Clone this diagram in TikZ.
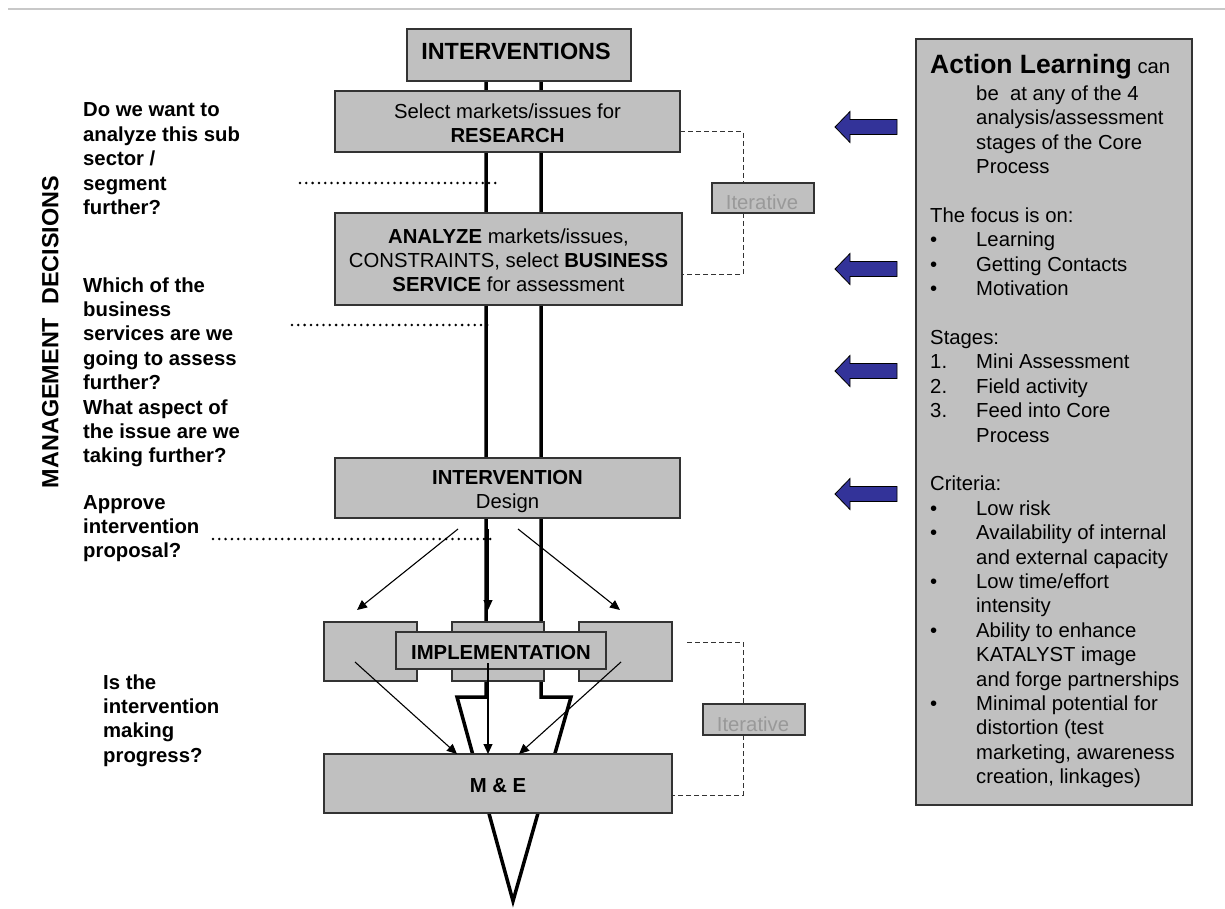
\documentclass[tikz,border=0pt]{standalone}
\usepackage{fontspec}
\setmainfont{Liberation Sans}
\usetikzlibrary{arrows.meta}
\definecolor{boxgray}{HTML}{C0C0C0}
\definecolor{edgegray}{HTML}{333333}
\definecolor{itergray}{HTML}{999999}
\definecolor{navyarr}{HTML}{333399}
\definecolor{rulegray}{HTML}{C8C8C8}
\newcommand\fsz[2]{\fontsize{#1}{#2}\selectfont}
\begin{document}
\begin{tikzpicture}[x=1pt,y=-1pt,
  box/.style={draw=edgegray, line width=1.3pt, fill=boxgray, inner sep=0pt, outer sep=0pt},
  boxtxt/.style={anchor=base, inner sep=0pt, font=\fsz{20.3}{24}},
  itertxt/.style={anchor=base, inner sep=0pt, font=\fsz{20.3}{24}, text=itergray},
  thinarr/.style={line width=1.1pt, -{Triangle[length=10pt,width=9pt]}},
  dashline/.style={draw=edgegray, line width=1pt, dash pattern=on 5pt off 3pt},
  dotline/.style={line width=2.8pt, line cap=round, dash pattern=on 0pt off 6.3pt},
  lefttxt/.style={anchor=base west, inner sep=0pt, font=\fsz{20.3}{24.4}\bfseries},
  bigarrow/.style={line width=3.5pt, miter limit=10},
  bluearr/.style={fill=navyarr, draw=black, line width=0.8pt},
]
\useasboundingbox (0,0) rectangle (1225,909);
\fill[white] (0,0) rectangle (1225,909);
\draw[rulegray, line width=1.3pt] (8,9) -- (1225,9);

% main spine and big arrow
\coordinate (vl) at (486,75);
\coordinate (vr) at (541,75);
\coordinate (al) at (486,697);
\coordinate (alo) at (457,697);
\coordinate (tip) at (513,901);
\coordinate (aro) at (571,697);
\coordinate (ar) at (541,697);
\draw[bigarrow] (vl) -- (al) -- (alo) -- (tip) -- (aro) -- (ar) -- (vr);

% boxes
\node[box, minimum width=224pt, minimum height=52pt] (ints) at (519,55) {};
\node[boxtxt, font=\fsz{23.4}{28}\bfseries] (intst) at (516,59.5) {INTERVENTIONS};

\node[box, minimum width=345pt, minimum height=61pt] (sel) at (507.5,121.5) {};
\node[boxtxt] (selt) at (507.5,118.3) {\begin{tabular}[t]{@{}c@{}}Select markets/issues for\\\textbf{RESEARCH}\end{tabular}};

\node[box, minimum width=347pt, minimum height=92pt] (ana) at (508.5,259) {};
\node[boxtxt] (anat) at (508.5,243.3) {\begin{tabular}[t]{@{}c@{}}\textbf{ANALYZE} markets/issues,\\CONSTRAINTS, select \textbf{BUSINESS}\\\textbf{SERVICE} for assessment\end{tabular}};

\node[box, minimum width=345pt, minimum height=60pt] (des) at (507.5,488) {};
\node[boxtxt] (dest) at (507.5,484.3) {\begin{tabular}[t]{@{}c@{}}\textbf{INTERVENTION}\\Design\end{tabular}};

\node[box, minimum width=93pt, minimum height=59pt] (impl) at (370.5,651.5) {};
\node[box, minimum width=92pt, minimum height=59pt] (impm) at (498,651.5) {};
\node[box, minimum width=93pt, minimum height=59pt] (impr) at (625.5,651.5) {};
\node[box, minimum width=210pt, minimum height=37pt] (imp) at (501,650.5) {};
\node[boxtxt, font=\fsz{20.3}{24}\bfseries] (impt) at (501,659.3) {IMPLEMENTATION};

\node[box, minimum width=348pt, minimum height=59pt] (me) at (498,783.5) {};
\node[boxtxt, font=\fsz{20.3}{24}\bfseries] (met) at (498,792.7) {M \& E};

\node[box, minimum width=102pt, minimum height=30pt] (it1) at (763,198) {};
\node[itertxt] (it1t) at (762,209.3) {Iterative};
\node[box, minimum width=102pt, minimum height=31pt] (it2) at (754,719.5) {};
\node[itertxt] (it2t) at (753,731.7) {Iterative};

% dashed iteration brackets
\draw[dashline] ([yshift=-10.5pt]sel.east) -| ([xshift=-20pt]it1.north);
\draw[dashline] ([xshift=-20pt]it1.south) |- ([yshift=-15pt]ana.east);
\coordinate (lb) at (687,642);
\draw[dashline] (lb) -| ([xshift=-11pt]it2.north);
\draw[dashline] ([xshift=-11pt]it2.south) |- ([yshift=-11.5pt]me.east);

% dotted decision lines
\coordinate (d1a) at (300,183); \coordinate (d1b) at (497,183);
\coordinate (d2a) at (292,325); \coordinate (d2b) at (493,325);
\coordinate (d3a) at (213,539); \coordinate (d3b) at (493,539);
\draw[dotline] (d1a) -- (d1b);
\draw[dotline] (d2a) -- (d2b);
\draw[dotline] (d3a) -- (d3b);

% thin arrows from design to implementation
\coordinate (dL) at (458,529); \coordinate (tL) at (357,610);
\coordinate (dM) at (488,529); \coordinate (tM) at (488,610);
\coordinate (dR) at (518,529); \coordinate (tR) at (620,610);
\draw[thinarr] (dL) -- (tL);
\draw[thinarr] (dM) -- (tM);
\draw[thinarr] (dR) -- (tR);

% thin arrows from implementation to M&E
\coordinate (sL) at (355,662);
\coordinate (sM) at (488,663);
\coordinate (sR) at (621,662);
\draw[thinarr] (sL) -- ([xshift=-41pt]me.north);
\draw[thinarr] (sM) -- ([xshift=-10pt]me.north);
\draw[thinarr] (sR) -- ([xshift=21pt]me.north);

% left labels
\node[anchor=base, rotate=90, inner sep=0pt, font=\fsz{23.4}{28}\bfseries] (mgmt) at (58.3,332) {MANAGEMENT\ \ DECISIONS};
\node[lefttxt] (q1) at (83,117) {\begin{tabular}[t]{@{}l@{}}Do we want to\\analyze this sub\\sector /\\segment\\further?\end{tabular}};
\node[lefttxt] (q2) at (83,292) {\begin{tabular}[t]{@{}l@{}}Which of the\\business\\services are we\\going to assess\\further?\\What aspect of\\the issue are we\\taking further?\end{tabular}};
\node[lefttxt] (q3) at (83,509) {\begin{tabular}[t]{@{}l@{}}Approve\\intervention\\proposal?\end{tabular}};
\node[lefttxt] (q4) at (103,689) {\begin{tabular}[t]{@{}l@{}}Is the\\intervention\\making\\progress?\end{tabular}};

% action learning panel
\node[box, minimum width=276pt, minimum height=766pt] (panel) at (1054,422) {};
\node[anchor=base west, inner sep=0pt] (altitle) at (930,73.3) {\fsz{26.5}{30}\bfseries Action Learning\fsz{20.3}{24.4}\mdseries{} can};
\node[anchor=base west, inner sep=0pt, font=\fsz{20.3}{24.4}] (altext) at (930,100.5) {\begin{tabular}[t]{@{}p{46pt}@{}l@{}}
 & be\ \ at any of the 4\\
 & analysis/assessment\\
 & stages of the Core\\
 & Process\\
 \\
\multicolumn{2}{@{}l@{}}{The focus is on:}\\
• & Learning\\
• & Getting Contacts\\
• & Motivation\\
 \\
\multicolumn{2}{@{}l@{}}{Stages:}\\
1. & Mini Assessment\\
2. & Field activity\\
3. & Feed into Core\\
 & Process\\
 \\
\multicolumn{2}{@{}l@{}}{Criteria:}\\
• & Low risk\\
• & Availability of internal\\
 & and external capacity\\
• & Low time/effort\\
 & intensity\\
• & Ability to enhance\\
 & KATALYST image\\
 & and forge partnerships\\
• & Minimal potential for\\
 & distortion (test\\
 & marketing, awareness\\
 & creation, linkages)
\end{tabular}};

% blue arrows
\foreach \c in {127,269,371,494}{
  \draw[bluearr] (835,\c) -- (850,\c-15.5) -- (850,\c-7.5) -- (897,\c-7.5) -- (897,\c+7.5) -- (850,\c+7.5) -- (850,\c+15.5) -- cycle;
}
\end{tikzpicture}
\end{document}
